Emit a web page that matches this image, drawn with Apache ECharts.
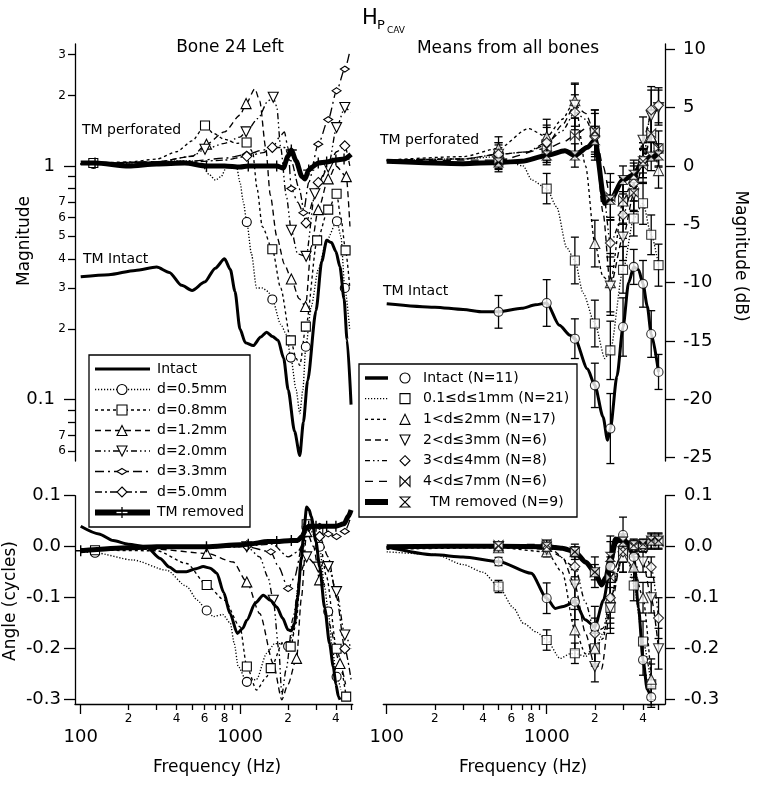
<!DOCTYPE html>
<html><head><meta charset="utf-8">
<script src="https://cdn.jsdelivr.net/npm/echarts@6/dist/echarts.min.js"></script>
<style>html,body{margin:0;padding:0;background:#fff}#c{width:767px;height:796px}</style>
</head><body><div id="c"></div>
<script>
// ---------- DATA (frequency in Hz) ----------
// Left top: magnitude (linear ratio); third element = 1 where a marker is drawn
const magIntact = [[100,0.335],[150,0.342],[220,0.357],[300,0.369],[360,0.35],[430,0.308],[500,0.293],[600,0.318],[700,0.365],[800,0.40],[870,0.36],[930,0.29],[1000,0.2],[1080,0.175],[1210,0.170],[1350,0.185],[1470,0.194],[1600,0.186],[1735,0.179],[1880,0.15],[2006,0.11],[2200,0.073],[2374,0.0575],[2500,0.08],[2657,0.12],[3000,0.24],[3260,0.39],[3500,0.48],[3750,0.47],[4000,0.43],[4240,0.37],[4500,0.27],[4700,0.18],[4980,0.095]];
const mag05 = [[100,1.02],[120,1.02,1],[200,1.03],[300,1.04],[400,1.05],[500,1.05],[580,1.0],[640,0.92],[700,0.87],[760,0.9],[830,1.0],[950,1.0],[1000,0.85],[1050,0.7],[1103,0.575,1],[1180,0.42],[1270,0.30],[1380,0.30],[1500,0.29],[1596,0.268,1],[1800,0.21],[1955,0.19],[2085,0.151,1],[2250,0.11],[2374,0.087],[2480,0.11],[2590,0.168,1],[2800,0.25],[3100,0.36],[3500,0.48],[4060,0.58,1],[4300,0.5],[4550,0.30,1],[4890,0.197]];
const mag08 = [[100,1.02],[120,1.03,1],[200,1.04],[300,1.07],[400,1.15],[500,1.28],[603,1.49,1],[680,1.38],[800,1.3],[950,1.25],[1100,1.26,1],[1200,1.15],[1280,0.8],[1380,0.55],[1596,0.44,1],[1800,0.3],[2085,0.179,1],[2250,0.15],[2374,0.14],[2590,0.205,1],[3050,0.48,1],[3580,0.65,1],[4040,0.76,1],[4300,0.6],[4600,0.435,1],[4890,0.3]];
const mag12 = [[100,1.02],[300,1.04],[500,1.1],[616,1.24,1],[800,1.4],[1000,1.65],[1092,1.85,1],[1240,2.14],[1330,1.9],[1450,1.2],[1550,0.75],[1700,0.5],[1900,0.38],[2100,0.328,1],[2350,0.27],[2580,0.25,1],[2800,0.45],[3100,0.65,1],[3580,0.88,1],[4000,1.0],[4650,0.9,1],[4900,0.55]];
const mag20 = [[100,1.02],[300,1.04],[500,1.1],[603,1.18,1],[800,1.25],[1000,1.33],[1092,1.4,1],[1300,1.6],[1500,1.9],[1617,1.97,1],[1700,1.8],[1800,1.2],[1950,0.75],[2100,0.53,1],[2300,0.42],[2600,0.41,1],[2950,0.76,1],[3580,0.99,1],[4040,1.46,1],[4550,1.78,1],[4950,1.7]];
const mag33 = [[100,1.02],[500,1.05],[800,1.08],[1103,1.12,1],[1400,1.17],[1596,1.2,1],[1800,1.35],[1900,1.4],[2000,1.2],[2100,0.8,1],[2300,0.7],[2500,0.63,1],[2700,0.85],[3100,1.24,1],[3580,1.58,1],[4040,2.1,1],[4550,2.6,1],[4890,3.1]];
const mag50 = [[100,1.02],[500,1.04],[800,1.06],[1103,1.1,1],[1400,1.14],[1596,1.2,1],[1900,1.2],[2100,1.05],[2350,0.8],[2600,0.57,1],[2900,0.72],[3100,0.85,1],[3580,1.0],[4040,1.15],[4550,1.22,1],[4890,1.0]];
const magRemoved = [[100,1.03],[123,1.03,1],[200,1.0],[300,1.02],[450,1.03],[616,1.0,1],[800,1.0],[1000,0.99],[1127,1.0,1],[1400,1.0],[1700,1.0,1],[1870,0.98],[2000,1.1],[2100,1.17,1],[2250,1.05],[2450,0.9],[2560,0.88],[2700,0.96,1],[2833,0.99],[3100,1.03,1],[3500,1.04,1],[4000,1.06,1],[4500,1.07,1],[4980,1.12]];

// Left bottom: angle (cycles)
const angIntact = [[100,0.04],[130,0.025],[160,0.012],[199,0.005],[258,0.0],[315,-0.023],[360,-0.04],[400,-0.049],[461,-0.049],[530,-0.043],[588,-0.039],[650,-0.042],[716,-0.052],[790,-0.09],[866,-0.131],[962,-0.17],[1040,-0.16],[1104,-0.144],[1250,-0.11],[1400,-0.095],[1550,-0.105],[1703,-0.118],[1850,-0.14],[2005,-0.163],[2100,-0.165],[2200,-0.15],[2300,-0.1],[2430,-0.02],[2530,0.04],[2621,0.078],[2720,0.072],[2800,0.059],[3000,0.01],[3160,-0.039],[3400,-0.12],[3650,-0.19],[3850,-0.235],[4000,-0.27],[4150,-0.294],[4250,-0.3]];
const ang05 = [[100,-0.01],[123,-0.012,1],[213,-0.026],[346,-0.046],[463,-0.078],[540,-0.105],[618,-0.125,1],[680,-0.137],[780,-0.133],[870,-0.15],[920,-0.19],[975,-0.235],[1104,-0.265,1],[1270,-0.26],[1471,-0.209],[1650,-0.19],[1830,-0.19],[2005,-0.195,1],[2150,-0.17],[2335,-0.07],[2500,0.0],[2621,0.039,1],[2800,0.03],[3160,0.0,1],[3400,-0.08],[3580,-0.127,1],[3800,-0.2],[4040,-0.255,1],[4300,-0.28]];
const ang08 = [[100,-0.005],[123,-0.007,1],[300,-0.008],[463,-0.033],[618,-0.075,1],[800,-0.105],[1000,-0.157],[1104,-0.235,1],[1270,-0.281],[1471,-0.255],[1560,-0.238,1],[1870,-0.186],[2080,-0.196,1],[2250,-0.15],[2430,-0.03],[2621,0.044,1],[3100,0.03,1],[3500,-0.06],[4040,-0.2,1],[4640,-0.294,1]];
const ang12 = [[100,-0.005],[300,-0.005],[618,-0.013,1],[906,-0.03],[1104,-0.069,1],[1330,-0.131],[1618,-0.229],[1830,-0.3],[2000,-0.27],[2265,-0.219,1],[2430,-0.1],[2621,0.03,1],[2900,0.0],[3160,-0.065,1],[3600,-0.15],[4245,-0.229,1],[4600,-0.27]];
const ang20 = [[100,-0.005],[500,-0.003],[1104,0.0,1],[1330,-0.02],[1500,-0.06],[1618,-0.105,1],[1750,-0.2],[1830,-0.29],[1950,-0.24],[2150,-0.14],[2400,-0.05],[2621,-0.02,1],[3100,-0.04,1],[3580,-0.039,1],[4040,-0.088,1],[4550,-0.173,1],[4980,-0.2]];
const ang33 = [[100,-0.005],[500,0.0],[1104,0.0],[1560,-0.01,1],[1750,-0.04],[2005,-0.082,1],[2200,-0.06],[2450,0.0],[2621,0.035],[3160,0.04,1],[3580,0.025,1],[4040,0.02,1],[4550,0.03,1],[4980,0.06]];
const ang50 = [[100,-0.005],[500,0.0],[1104,0.002,1],[1600,0.005],[2005,-0.02],[2300,-0.01],[2621,0.02],[3160,0.02,1],[3580,-0.02],[4040,-0.1],[4550,-0.2,1],[4980,-0.26]];
const angRemoved = [[100,-0.008,1],[200,-0.002],[300,0.0],[616,0.0,1],[1000,0.004],[1127,0.005,1],[1500,0.01],[1700,0.01,1],[2100,0.012,1],[2300,0.012],[2450,0.02],[2600,0.035],[2700,0.04,1],[3000,0.04,1],[3500,0.04,1],[4000,0.04,1],[4500,0.045],[4800,0.06],[4980,0.072]];

// Right top: magnitude (dB). Means [f, mean, sd] and extra line points [f, value]
const dbIntactM = [[500,-12.5,1.4],[1000,-11.74,2.0],[1500,-14.8,1.7],[2000,-18.8,1.9],[2500,-22.5,3.0],[3000,-13.8,2.5],[3500,-8.65,1.5],[4000,-10.1,2.0],[4500,-14.4,2.0],[5000,-17.65,1.5]];
const dbIntactL = [[100,-11.8],[200,-12.1],[300,-12.3],[400,-12.5],[700,-12.2],[850,-11.9],[1200,-13.65],[1400,-14.5],[1800,-17.4],[2250,-21.5],[2400,-23.5],[2750,-18],[3250,-10],[3750,-8.9],[4250,-12]];
const db01M = [[500,0.8,1.0],[1000,-1.94,1.3],[1500,-8.1,2.0],[2000,-13.5,2.0],[2500,-15.8,2.5],[3000,-8.9,2.0],[3500,-4.5,1.5],[4000,-3.2,1.8],[4500,-5.9,1.7],[5000,-8.5,1.8]];
const db01L = [[100,0.5],[300,0.6],[713,0.0],[807,-1.2],[1154,-3.5],[1333,-7.0],[1689,-10.9],[2310,-16.5]];
const db12M = [[500,1.5,1.0],[1000,2.5,1.5],[1500,5.6,1.5],[2000,-6.65,2.0],[2500,-10,2.5],[3000,-3,2.0],[3500,-1,1.5],[4000,0.5,1.5],[4500,2.5,2.0],[5000,-0.4,1.5]];
const db12L = [[100,0.5],[300,0.8],[768,3.2],[1250,4],[1750,0],[2250,-9.5]];
const db23M = [[500,1.0,1.0],[1000,1.8,1.5],[1500,5.2,1.8],[2000,2.8,2.0],[2500,-10.3,2.5],[3000,-6.1,2.0],[3500,-2.4,1.5],[4000,2.2,2.0],[4500,4.3,2.2],[5000,5.0,1.5]];
const db23L = [[100,0.5],[300,0.6],[750,1.2],[1250,3.5],[1750,4.5],[2250,-4]];
const db34M = [[500,1.0,1.0],[1000,2.0,1.5],[1500,4.6,1.5],[2000,2.5,2.0],[2500,-6.6,2.0],[3000,-4.2,2.0],[3500,-1.5,1.5],[4000,0.5,1.5],[4500,4.8,2.0],[5000,5.2,1.5]];
const db34L = [[100,0.5],[300,0.6],[750,1.2],[1250,3],[1750,4],[2250,-2]];
const db47M = [[500,0.5,0.8],[1000,1.5,1.2],[1500,2.6,1.5],[2000,3.0,1.8],[2500,-2.65,2.0],[3000,-2.9,2.0],[3500,-2.3,1.5],[4000,0,1.5],[4500,2.8,2.0],[5000,1.5,1.5]];
const db47L = [[100,0.4],[300,0.5],[1250,2],[1750,3.2],[2250,0]];
const dbRemM = [[500,0.3,0.8],[1000,0.9,0.8],[1500,0.9,1.0],[2000,2.2,1.2],[2500,-2.9,1.5],[3000,-1.2,1.2],[3500,-0.75,1.0],[4000,0.4,1.0],[4500,0.8,1.2],[5000,0.9,1.0]];
const dbRemL = [[100,0.4],[300,0.2],[700,0.4],[1300,1.3],[1800,1.6],[2310,-3.2]];

// Right bottom: angle (cycles)
const phIntactM = [[500,-0.029,0.008],[1000,-0.101,0.03],[1500,-0.108,0.035],[2000,-0.157,0.04],[2500,-0.039,0.06],[3000,0.023,0.035],[3500,-0.02,0.02],[4000,-0.222,0.03],[4500,-0.295,0.02]];
const phIntactL = [[100,0.0],[200,-0.016],[300,-0.02],[800,-0.052],[1130,-0.121],[1274,-0.117],[1740,-0.143],[2264,-0.105],[2730,0.007],[3750,-0.12],[4250,-0.28]];
const ph01M = [[500,-0.078,0.012],[1000,-0.183,0.02],[1500,-0.209,0.02],[2000,-0.199,0.035],[2500,-0.12,0.05],[3000,-0.02,0.03],[3500,-0.076,0.03],[4000,-0.186,0.04],[4500,-0.27,0.04]];
const ph01L = [[100,-0.01],[200,-0.015],[300,-0.035],[400,-0.05],[620,-0.12],[714,-0.15],[870,-0.168],[1213,-0.219],[1400,-0.21],[1750,-0.215],[2250,-0.17],[2750,-0.05],[3250,-0.03]];
const ph12M = [[500,-0.002,0.006],[1000,-0.01,0.01],[1500,-0.163,0.04],[2000,-0.2,0.03],[2500,-0.1,0.05],[3000,-0.02,0.03],[3500,-0.04,0.02],[4000,-0.1,0.03],[4500,-0.26,0.04]];
const ph12L = [[100,-0.005],[1250,-0.05],[1750,-0.21],[2250,-0.18]];
const ph23M = [[500,0.0,0.005],[1000,-0.005,0.01],[1500,-0.075,0.03],[2000,-0.235,0.03],[2500,-0.12,0.04],[3000,-0.01,0.02],[3500,0.0,0.015],[4000,-0.03,0.02],[4500,-0.1,0.03],[5000,-0.2,0.04]];
const ph23L = [[100,-0.003],[1250,-0.02],[1750,-0.17],[2200,-0.24]];
const ph34M = [[500,0.002,0.005],[1000,0.0,0.008],[1500,-0.039,0.02],[2000,-0.17,0.03],[2500,-0.1,0.04],[3000,-0.01,0.02],[3500,0.0,0.01],[4000,0.0,0.01],[4500,-0.04,0.02],[5000,-0.14,0.04]];
const ph34L = [[100,0.0],[1750,-0.11],[2250,-0.16]];
const ph47M = [[500,0.003,0.005],[1000,0.005,0.008],[1500,-0.01,0.015],[2000,-0.05,0.03],[2500,-0.06,0.04],[3000,-0.01,0.02],[3500,0.0,0.01],[4000,0.0,0.01],[4500,0.01,0.015],[5000,0.01,0.015]];
const ph47L = [[100,0.0],[2250,-0.07]];
const phRemM = [[500,0.001,0.004],[1000,0.0,0.006],[1500,-0.01,0.01],[2000,-0.05,0.015],[2500,-0.02,0.03],[3000,0.01,0.015],[3500,0.003,0.01],[4000,0.005,0.01],[4500,0.012,0.015],[5000,0.012,0.015]];
const phRemL = [[100,0.0],[1250,-0.003],[1750,-0.03],[2200,-0.075],[2350,-0.06],[2700,0.015]];

// Ticks / labels
const xMajorTicks = [100, 1000];
const xMinorTicks = [200,300,400,500,600,700,800,900,2000,3000,4000,5000];
const xMinorLabels = [200,400,600,800,2000,4000];
const magMajorTicks = [1, 0.1];
const magMinorTicks = [3,2,0.9,0.8,0.7,0.6,0.5,0.4,0.3,0.2,0.09,0.08,0.07,0.06];
const magMinorLabels = [3,2,0.7,0.6,0.5,0.4,0.3,0.2,0.07,0.06];
const dbTicks = [10,5,0,-5,-10,-15,-20,-25];
const angTicks = [0.1,0,-0.1,-0.2,-0.3];

const leftLegendNames = ['Intact','d=0.5mm','d=0.8mm','d=1.2mm','d=2.0mm','d=3.3mm','d=5.0mm','TM removed'];
const rightLegendNames = ['Intact (N=11)','0.1≤d≤1mm (N=21)','1<d≤2mm (N=17)','2<d≤3mm (N=6)','3<d≤4mm (N=8)','4<d≤7mm (N=6)','TM removed (N=9)'];

// ---------- STYLES ----------
const FONT = 'DejaVu Sans';
const P_PLUS = 'path://M5,0L5,10M0,5L10,5';
const P_HOUR = 'path://M0,0L10,0L0,10L10,10Z';
const P_BOW = 'path://M0,0L10,10L10,0L0,10Z';
const TW = 1.35;
const SL = {
  intact: {w:3, dash:'solid', sym:'none'},
  d05: {w:TW, dash:[1.2,1.8], sym:'circle', size:9, shape:'circle'},
  d08: {w:TW, dash:[3,3], sym:'rect', size:9, shape:'rect'},
  d12: {w:TW, dash:[6,4], sym:'triangle', size:10, shape:'triUp'},
  d20: {w:TW, dash:[6,3,1.5,3,1.5,3], sym:'triangle', rot:180, size:10, shape:'triDown'},
  d33: {w:TW, dash:[9,4,2,4], sym:'diamond', size:[9,6], shape:'diaSmall'},
  d50: {w:TW, dash:[7,3,2,3], sym:'diamond', size:10, shape:'diamond'},
  rem: {w:5, dash:'solid', sym:P_PLUS, size:11, fill:'#000', bw:1.4, shape:'plus'}
};
const SR = {
  intact: {w:3, dash:'solid', sym:'circle', size:9, shape:'circle'},
  d01: {w:TW, dash:[1.2,1.8], sym:'rect', size:9, shape:'rect'},
  d12: {w:TW, dash:[3,3], sym:'triangle', size:10, shape:'triUp'},
  d23: {w:TW, dash:[6,4], sym:'triangle', rot:180, size:10, shape:'triDown'},
  d34: {w:TW, dash:[5,3,1.5,3,1.5,3], sym:'diamond', size:10, shape:'diamond'},
  d47: {w:TW, dash:[8,6], sym:P_BOW, size:9, shape:'bow'},
  rem: {w:5, dash:'solid', sym:P_HOUR, size:9, shape:'hour'}
};

const lx = f => Math.log10(f);
const toDb = m => 20 * Math.log10(m);
const ident = v => v;
const XL = [1.9642, 3.7075], XR = [1.97875, 3.7394];
const DBR = [-25.28, 10.45], ANGR = [-0.3084, 0.1];

function lineSeries(xi, yi, pts, st, conv) {
  return {type:'line', xAxisIndex:xi, yAxisIndex:yi, smooth:0.25, smoothMonotone:'x', showAllSymbol:true, silent:true,
    symbol: st.sym, symbolSize: st.size || 8, symbolRotate: st.rot || 0, z: st.w > 2 ? 3 : 2,
    lineStyle:{color:'#000', width:st.w, type:st.dash}, itemStyle:{color: st.fill || '#fff', borderColor:'#000', borderWidth: st.bw || 1.1},
    data: pts.map(p => ({value:[lx(p[0]), conv(p[1])], symbol: p[2] ? st.sym : 'none'}))};
}
function errBar(params, api) {
  const x = api.value(0), p1 = api.coord([x, api.value(1)]), p2 = api.coord([x, api.value(2)]);
  const w = 4, s = {stroke:'#000', lineWidth:1.3};
  return {type:'group', children:[
    {type:'line', shape:{x1:p1[0], y1:p1[1], x2:p2[0], y2:p2[1]}, style:s},
    {type:'line', shape:{x1:p1[0]-w, y1:p1[1], x2:p1[0]+w, y2:p1[1]}, style:s},
    {type:'line', shape:{x1:p2[0]-w, y1:p2[1], x2:p2[0]+w, y2:p2[1]}, style:s}]};
}
function rightGroup(xi, yi, means, extra, st) {
  const curve = means.map(m => [m[0], m[1]]).concat(extra).sort((a, b) => a[0] - b[0]);
  return [
    {type:'line', xAxisIndex:xi, yAxisIndex:yi, smooth:0.25, smoothMonotone:'x', showSymbol:false, silent:true, z: st.w > 2 ? 3 : 2,
      lineStyle:{color:'#000', width:st.w, type:st.dash}, data: curve.map(p => [lx(p[0]), p[1]])},
    {type:'custom', xAxisIndex:xi, yAxisIndex:yi, renderItem:errBar, silent:true, z:4, encode:{x:0, y:[1,2]},
      data: means.map(m => [lx(m[0]), m[1] - m[2], m[1] + m[2]])},
    {type:'scatter', xAxisIndex:xi, yAxisIndex:yi, silent:true, z:5, symbol:st.sym, symbolSize:st.size, symbolRotate:st.rot || 0,
      itemStyle:{color:'#fff', borderColor:'#000', borderWidth:1.1}, data: means.map(m => [lx(m[0]), m[1]])}
  ];
}

// ---------- AXES ----------
const black = {color:'#000', width:1.3};
function xPair(grid, ext, show) {
  if (!show) return [{type:'value', gridIndex:grid, min:ext[0], max:ext[1], show:false}, {type:'value', gridIndex:grid, min:ext[0], max:ext[1], show:false}];
  return [
    {type:'value', gridIndex:grid, min:ext[0], max:ext[1], position:'bottom', splitLine:{show:false},
      axisLine:{show:true, onZero:false, lineStyle:black},
      axisTick:{show:true, customValues: xMajorTicks.map(lx), length:10, lineStyle:black},
      axisLabel:{customValues: xMajorTicks.map(lx), formatter: v => String(Math.round(Math.pow(10, v))), fontSize:18, color:'#000', margin:24, fontFamily:FONT}},
    {type:'value', gridIndex:grid, min:ext[0], max:ext[1], position:'bottom', splitLine:{show:false},
      axisLine:{show:false, onZero:false},
      axisTick:{show:true, customValues: xMinorTicks.map(lx), length:6, lineStyle:black},
      axisLabel:{customValues: xMinorLabels.map(lx), formatter: v => String(Math.round(Math.pow(10, v)))[0], fontSize:12, color:'#000', margin:9, fontFamily:FONT}}
  ];
}
const magFmtMinor = v => { const m = Math.pow(10, v / 20); const e = Math.floor(Math.log10(m) + 1e-9); return String(Math.round(m / Math.pow(10, e))); };
const yAxes = [
  {type:'value', gridIndex:0, min:DBR[0], max:DBR[1], position:'left', splitLine:{show:false},
    axisLine:{show:true, onZero:false, lineStyle:black},
    axisTick:{show:true, customValues: magMajorTicks.map(toDb), length:11, lineStyle:black},
    axisLabel:{customValues: magMajorTicks.map(toDb), formatter: v => String(parseFloat(Math.pow(10, v / 20).toPrecision(2))), fontSize:18, color:'#000', margin:20, fontFamily:FONT}},
  {type:'value', gridIndex:0, min:DBR[0], max:DBR[1], position:'left', splitLine:{show:false},
    axisLine:{show:false, onZero:false},
    axisTick:{show:true, customValues: magMinorTicks.map(toDb), length:7, lineStyle:black},
    axisLabel:{customValues: magMinorLabels.map(toDb), formatter: magFmtMinor, fontSize:12, color:'#000', margin:9, fontFamily:FONT}},
  {type:'value', gridIndex:1, min:ANGR[0], max:ANGR[1], position:'left', splitLine:{show:false},
    axisLine:{show:true, onZero:false, lineStyle:black},
    axisTick:{show:true, customValues: angTicks, length:11, lineStyle:black},
    axisLabel:{customValues: angTicks, formatter: v => v.toFixed(1), fontSize:18, color:'#000', margin:14, fontFamily:FONT}},
  {type:'value', gridIndex:2, min:DBR[0], max:DBR[1], position:'right', splitLine:{show:false},
    axisLine:{show:true, onZero:false, lineStyle:black},
    axisTick:{show:true, customValues: dbTicks, length:10, lineStyle:black},
    axisLabel:{customValues: dbTicks, formatter: v => String(v), fontSize:18, color:'#000', margin:18, fontFamily:FONT}},
  {type:'value', gridIndex:3, min:ANGR[0], max:ANGR[1], position:'right', splitLine:{show:false},
    axisLine:{show:true, onZero:false, lineStyle:black},
    axisTick:{show:true, customValues: angTicks, length:10, lineStyle:black},
    axisLabel:{customValues: angTicks, formatter: v => v.toFixed(1), fontSize:18, color:'#000', margin:19, fontFamily:FONT}}
];
const xAxes = [].concat(xPair(0, XL, false), xPair(1, XL, true), xPair(2, XR, false), xPair(3, XR, true));

// ---------- SERIES ----------
const series = [];
const leftTop = [[mag05,SL.d05],[mag08,SL.d08],[mag12,SL.d12],[mag20,SL.d20],[mag33,SL.d33],[mag50,SL.d50],[magIntact,SL.intact],[magRemoved,SL.rem]];
leftTop.forEach(([d, s]) => series.push(lineSeries(0, 0, d, s, toDb)));
const leftBot = [[ang05,SL.d05],[ang08,SL.d08],[ang12,SL.d12],[ang20,SL.d20],[ang33,SL.d33],[ang50,SL.d50],[angIntact,SL.intact],[angRemoved,SL.rem]];
leftBot.forEach(([d, s]) => series.push(lineSeries(2, 2, d, s, ident)));
const rightTop = [[db01M,db01L,SR.d01],[db12M,db12L,SR.d12],[db23M,db23L,SR.d23],[db34M,db34L,SR.d34],[db47M,db47L,SR.d47],[dbIntactM,dbIntactL,SR.intact],[dbRemM,dbRemL,SR.rem]];
rightTop.forEach(([m, l, s]) => series.push(...rightGroup(4, 3, m, l, s)));
const rightBot = [[ph01M,ph01L,SR.d01],[ph12M,ph12L,SR.d12],[ph23M,ph23L,SR.d23],[ph34M,ph34L,SR.d34],[ph47M,ph47L,SR.d47],[phIntactM,phIntactL,SR.intact],[phRemM,phRemL,SR.rem]];
rightBot.forEach(([m, l, s]) => series.push(...rightGroup(6, 4, m, l, s)));

// ---------- GRAPHIC (titles, labels, legends) ----------
const G = [];
function txt(x, y, t, size, opts) {
  const o = Object.assign({align:'left', va:'middle', rot:0}, opts || {});
  G.push({type:'text', x:x, y:y, rotation:o.rot, z:50, silent:true,
    style:{text:t, fill:'#000', font: size + 'px "' + FONT + '"', fontSize:size, fontFamily:FONT, align:o.align, textAlign:o.align, verticalAlign:o.va, textVerticalAlign:o.va}});
}
function symShape(kind, cx, cy, s) {
  const st = {fill:'#fff', stroke:'#000', lineWidth:1.1};
  const h = s / 2;
  switch (kind) {
    case 'circle': return [{type:'circle', shape:{cx:cx, cy:cy, r:h}, style:st}];
    case 'rect': return [{type:'rect', shape:{x:cx-h, y:cy-h, width:s, height:s}, style:st}];
    case 'triUp': return [{type:'polygon', shape:{points:[[cx,cy-h],[cx+h,cy+h],[cx-h,cy+h]]}, style:st}];
    case 'triDown': return [{type:'polygon', shape:{points:[[cx-h,cy-h],[cx+h,cy-h],[cx,cy+h]]}, style:st}];
    case 'diamond': return [{type:'polygon', shape:{points:[[cx,cy-h],[cx+h,cy],[cx,cy+h],[cx-h,cy]]}, style:st}];
    case 'diaSmall': return [{type:'polygon', shape:{points:[[cx,cy-h*0.6],[cx+h,cy],[cx,cy+h*0.6],[cx-h,cy]]}, style:st}];
    case 'plus': return [{type:'line', shape:{x1:cx-h, y1:cy, x2:cx+h, y2:cy}, style:{stroke:'#fff', lineWidth:1.3}},
                         {type:'line', shape:{x1:cx, y1:cy-h, x2:cx, y2:cy+h}, style:{stroke:'#000', lineWidth:1.3}}];
    case 'hour': return [{type:'polygon', shape:{points:[[cx-h,cy-h],[cx+h,cy-h],[cx-h,cy+h],[cx+h,cy+h]]}, style:st}];
    case 'bow': return [{type:'polygon', shape:{points:[[cx-h,cy-h],[cx+h,cy+h],[cx+h,cy-h],[cx-h,cy+h]]}, style:st}];
  }
  return [];
}
function legendBox(L, names, styles) {
  G.push({type:'rect', z:40, silent:true, shape:{x:L.x0, y:L.y0, width:L.w, height:L.h}, style:{fill:'#fff', stroke:'#000', lineWidth:1.3}});
  names.forEach((n, i) => {
    const y = L.rowY0 + i * L.dy, s = styles[i];
    G.push({type:'line', z:41, silent:true, shape:{x1:L.lx1, y1:y, x2:L.lx2, y2:y},
      style:{stroke:'#000', lineWidth: s.lw || s.w, lineDash: Array.isArray(s.dash) ? s.dash : null}});
    if (s.shape) symShape(s.shape, L.sx, y, s.shape === 'plus' ? 11 : 10).forEach(e => { e.z = 42; e.silent = true; G.push(e); });
    txt(L.tx + (s.tx || 0), y, n, 14);
  });
}
legendBox({x0:89, y0:355, w:161, h:172, rowY0:369, dy:20.5, lx1:95, lx2:150, sx:122, tx:157}, leftLegendNames,
  [SL.intact, SL.d05, SL.d08, SL.d12, SL.d20, SL.d33, SL.d50, Object.assign({}, SL.rem, {lw:6})]);
legendBox({x0:359, y0:364, w:218, h:153, rowY0:378, dy:20.67, lx1:365, lx2:388, sx:405, tx:423}, rightLegendNames,
  [Object.assign({}, SR.intact, {lw:3.5}), SR.d01, SR.d12, SR.d23, SR.d34, SR.d47, Object.assign({}, SR.rem, {lw:6, tx:7})]);

txt(362, 19, 'H', 21);
txt(377, 26, 'P', 13);
txt(387, 31, 'CAV', 9);
txt(230, 48, 'Bone 24 Left', 17, {align:'center'});
txt(508, 49, 'Means from all bones', 17, {align:'center'});
txt(82, 130, 'TM perforated', 14);
txt(83, 259, 'TM Intact', 14);
txt(380, 140, 'TM perforated', 14);
txt(383, 291, 'TM Intact', 14);
txt(25, 241, 'Magnitude', 17, {align:'center', rot:Math.PI/2});
txt(11, 601, 'Angle (cycles)', 17, {align:'center', rot:Math.PI/2});
txt(740, 256, 'Magnitude (dB)', 17, {align:'center', rot:-Math.PI/2});
txt(217, 768, 'Frequency (Hz)', 17, {align:'center'});
txt(523, 768, 'Frequency (Hz)', 17, {align:'center'});

const chart = echarts.init(document.getElementById('c'), null, {renderer:'canvas'});
chart.setOption({
  animation:false,
  backgroundColor:'#fff',
  textStyle:{fontFamily:FONT},
  grid:[
    {left:75, top:44, width:277.7, height:417},
    {left:75, top:495.7, width:277.7, height:208.3},
    {left:383.3, top:44, width:281.7, height:417},
    {left:383.3, top:495.7, width:281.7, height:208.3}
  ],
  xAxis: xAxes,
  yAxis: yAxes,
  series: series,
  graphic: G
});
</script></body></html>
